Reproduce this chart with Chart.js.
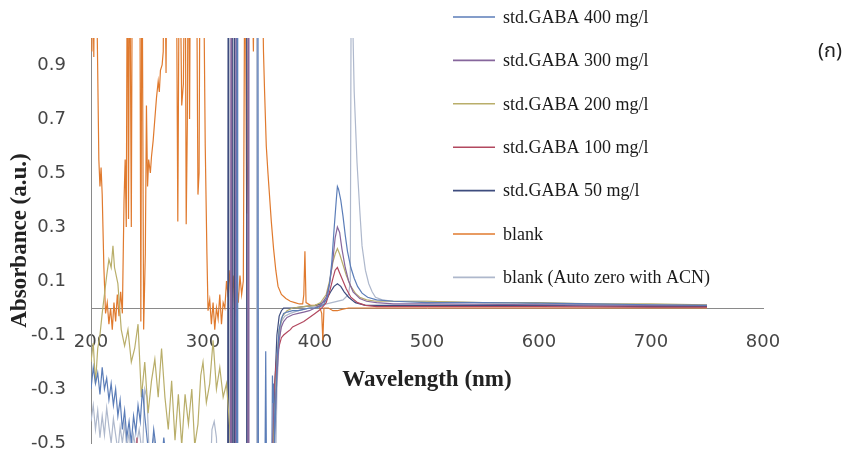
<!DOCTYPE html>
<html>
<head>
<meta charset="utf-8">
<script src="https://cdn.jsdelivr.net/npm/chart.js@4/dist/chart.umd.min.js"></script>
<style>
html,body{margin:0;padding:0;background:#fff;}
#c{display:block;}
</style>
</head>
<body>
<canvas id="c" width="849" height="457"></canvas>
<script>
// ---- tick labels ----
const xTicks = [200, 300, 400, 500, 600, 700, 800];
const yTicks = [-0.5, -0.3, -0.1, 0.1, 0.3, 0.5, 0.7, 0.9];

// ---- series labels ----
const seriesLabels = [
  'std.GABA 400 mg/l',
  'std.GABA 300 mg/l',
  'std.GABA 200 mg/l',
  'std.GABA 100 mg/l',
  'std.GABA 50 mg/l',
  'blank',
  'blank (Auto zero with ACN)'
];

// ---- series values: [wavelength nm, absorbance] ----
const gaba400 = [
  [200,-0.3],[202,-0.22],[204,-0.28],[206,-0.24],[208,-0.32],[210,-0.22],[212,-0.3],[214,-0.26],
  [216,-0.34],[218,-0.28],[220,-0.36],[222,-0.3],[224,-0.4],[226,-0.34],[228,-0.45],[230,-0.38],
  [232,-0.48],[234,-0.42],[236,-0.5],[238,-0.4],[240,-0.46],[242,-0.36],[244,-0.42],[246,-0.3],
  [248,-0.4],[250,-0.48],[253,-0.6],[256,-0.45],[259,-0.55],[262,-0.62],[265,-0.48],[268,-0.6],
  [271,-0.5],[274,-0.7],[277,-0.55],[280,-0.7],[283,-0.6],[286,-0.75],[290,-0.6],[295,-0.75],
  [300,-0.8],[320,-0.8],[330,-0.8],[330.5,1.5],[331,-0.8],[348.5,-0.8],[349,1.5],[349.5,-0.8],
  [355,-0.8],[356,-0.16],[357,-0.8],[361,-0.8],[362,-0.25],[362.5,-0.35],[363,-0.28],[364,-0.5],
  [366,-0.2],[368,-0.08],[370,-0.04],[372,-0.02],[375,-0.015],[380,-0.01],[385,-0.01],[390,-0.005],
  [395,0.0],[400,0.0],[405,0.005],[408,0.015],[411,0.04],[413,0.09],[415,0.17],[417,0.29],
  [419,0.4],[420,0.45],[421,0.44],[423,0.4],[425,0.34],[427,0.27],[429,0.21],[432,0.15],
  [435,0.11],[438,0.08],[442,0.055],[447,0.04],[455,0.03],[470,0.025],[500,0.02],[550,0.02],
  [600,0.018],[650,0.015],[700,0.012],[750,0.01]
];
const gaba300 = [
  [200,-0.7],[230,-0.8],[260,-0.7],[290,-0.8],[320,-0.7],[324.5,-0.8],[325,1.5],[325.5,-0.8],
  [329,-0.8],[329.5,1.5],[330,-0.8],[340,-0.8],[340.5,1.5],[341,-0.8],[360,-0.8],[364,-0.45],
  [366,-0.25],[368,-0.12],[370,-0.07],[372,-0.05],[375,-0.035],[380,-0.025],[385,-0.02],
  [390,-0.015],[395,-0.01],[400,0.0],[405,0.01],[410,0.04],[413,0.09],[416,0.18],[418,0.26],
  [420,0.3],[422,0.28],[424,0.22],[427,0.15],[430,0.1],[434,0.06],[440,0.035],[446,0.025],
  [455,0.02],[470,0.015],[500,0.015],[600,0.012],[700,0.01],[750,0.01]
];
const gaba200 = [
  [200,-0.2],[202,-0.13],[204,-0.28],[206,-0.15],[208,-0.1],[210,-0.02],[212,0.05],[214,0.12],
  [216,0.18],[218,0.15],[219.6,0.23],[221,0.15],[224,0.09],[227,-0.08],[230,-0.14],[233,-0.08],
  [236,-0.2],[239,-0.15],[242,-0.06],[245,-0.33],[248,-0.2],[251,-0.39],[254,-0.27],[257,-0.19],
  [260,-0.33],[263,-0.15],[266,-0.33],[269,-0.45],[272,-0.27],[275,-0.49],[278,-0.32],[281,-0.51],
  [284,-0.32],[287,-0.43],[290,-0.3],[292.6,-0.51],[295.5,-0.43],[298,-0.25],[300,-0.2],[303,-0.35],
  [306,-0.28],[309,-0.12],[312,-0.3],[315,-0.22],[318,-0.33],[321,-0.28],[324,-0.45],[326,-0.8],
  [360,-0.8],[363,-0.5],[366,-0.2],[368,-0.08],[371,-0.03],[375,-0.01],[380,0.0],[390,0.005],
  [400,0.01],[405,0.02],[410,0.05],[413,0.1],[416,0.17],[418,0.2],[420,0.22],[422,0.2],
  [425,0.16],[428,0.12],[432,0.08],[436,0.055],[440,0.04],[446,0.03],[455,0.025],[470,0.025],
  [500,0.025],[550,0.02],[600,0.02],[650,0.015],[700,0.015],[750,0.012]
];
const gaba100 = [
  [200,-0.8],[240,-0.8],[241,-0.48],[242,-0.8],[300,-0.8],[360,-0.8],[362,-0.55],[363,-0.35],
  [364,-0.28],[365,-0.22],[366,-0.18],[368,-0.14],[370,-0.11],[372,-0.1],[375,-0.09],[378,-0.08],
  [380,-0.07],[385,-0.06],[390,-0.05],[395,-0.035],[400,-0.02],[405,-0.005],[410,0.02],[413,0.06],
  [416,0.11],[418,0.14],[420,0.15],[422,0.13],[425,0.1],[428,0.07],[432,0.04],[438,0.02],
  [445,0.01],[455,0.005],[500,0.005],[600,0.005],[700,0.003],[750,0.003]
];
const gaba50 = [
  [200,-0.8],[320,-0.8],[322,-0.8],[322.5,1.5],[323,-0.8],[326,-0.8],[326.5,1.5],[327,-0.8],
  [327.8,-0.8],[328.2,1.5],[328.6,-0.8],[338.5,-0.8],[339,1.5],[339.5,-0.8],[358,-0.8],[362,-0.6],
  [364,-0.3],[366,-0.1],[368,-0.03],[370,-0.01],[372,0.0],[375,0.0],[380,0.0],[390,0.005],
  [400,0.01],[405,0.015],[410,0.03],[414,0.06],[417,0.08],[420,0.09],[423,0.08],[426,0.06],
  [430,0.04],[436,0.02],[445,0.01],[460,0.01],[500,0.01],[600,0.01],[700,0.005],[750,0.005]
];
const blank = [
  [200,1.5],[200.8,0.95],[201.6,1.3],[202.5,0.93],[203.5,1.5],[205,1.2],[207,0.55],[208,0.45],
  [209,0.52],[210,0.42],[211.5,0.15],[213,-0.02],[214.5,0.02],[216,-0.06],[217.5,0.0],[219,-0.08],
  [220.5,0.02],[222,-0.05],[223.5,0.05],[225,-0.03],[226.5,0.06],[228,-0.02],[229.5,0.4],[230.5,0.55],
  [231.5,0.3],[232.5,1.5],[233.5,0.33],[234.5,1.5],[236,0.3],[237,1.5],[243.5,1.5],[244.5,-0.05],
  [245.5,1.5],[247,-0.08],[248.5,0.2],[249.5,0.75],[250.5,0.45],[251.5,0.55],[253,0.5],[254,0.56],
  [255.5,0.62],[257,0.7],[258.5,0.78],[260,0.84],[261,0.8],[262,0.88],[263.5,0.9],[264.5,0.95],
  [265.5,1.5],[267,0.87],[268,1.5],[276,1.5],[277.5,0.32],[279,1.5],[281,0.75],[282.5,0.83],
  [284,1.5],[285,0.31],[286,0.68],[287,1.5],[288,0.7],[289,1.5],[294,1.5],[295.5,0.42],
  [296.5,0.5],[297.5,1.5],[300,1.5],[302,0.6],[303.5,0.2],[304.5,-0.01],[306,0.03],[307.5,-0.06],
  [309,0.02],[310.5,-0.08],[312,0.0],[313.5,-0.04],[315,0.05],[316.5,-0.06],[318,0.02],[319.5,0.0],
  [321,0.1],[322.5,0.04],[324,0.14],[325.5,0.02],[327,0.12],[328.5,-0.03],[330,0.1],[331.5,0.02],
  [333,0.12],[334.5,0.05],[336,0.1],[337.5,1.5],[339,0.35],[340,0.55],[341,1.5],[343,1.5],
  [345,0.95],[346,1.5],[352,1.5],[354,0.95],[355,0.8],[356.5,0.6],[358,0.5],[359,0.44],
  [361,0.32],[363,0.22],[365,0.14],[367,0.08],[370,0.05],[374,0.035],[378,0.025],[382,0.02],
  [386,0.015],[389,0.015],[390,0.05],[391,0.21],[392,0.02],[396,0.01],[400,0.01],[404,0.005],
  [406,-0.02],[407,-0.12],[408,0.0],[412,0.0],[416,-0.01],[420,-0.01],[424,-0.005],[430,0.0],
  [450,0.0],[500,0.0],[600,0.0],[700,0.0],[750,0.0]
];
const blankACN = [
  [200,-0.42],[202,-0.36],[204,-0.45],[206,-0.38],[208,-0.48],[210,-0.4],[212,-0.47],[214,-0.37],
  [216,-0.44],[218,-0.5],[220,-0.41],[222,-0.47],[224,-0.53],[226,-0.44],[228,-0.5],[230,-0.43],
  [232,-0.52],[234,-0.46],[236,-0.55],[238,-0.47],[240,-0.52],[243,-0.45],[246,-0.55],[248,-0.3],
  [250,-0.33],[252,-0.55],[256,-0.48],[260,-0.6],[266,-0.52],[272,-0.65],[280,-0.8],[305,-0.8],
  [308,-0.45],[310,-0.42],[312,-0.48],[314,-0.8],[347.5,-0.8],[348,1.5],[348.5,0.0],[349,-0.8],
  [364,-0.8],[366,-0.3],[368,-0.12],[370,-0.05],[373,-0.03],[378,-0.02],[385,-0.01],[395,0.0],
  [405,0.01],[415,0.02],[425,0.03],[430,0.05],[431.5,0.1],[432.5,1.5],[433.5,1.1],[435,0.8],
  [437.5,0.54],[440,0.36],[442,0.23],[445,0.14],[448,0.09],[451,0.06],[454,0.04],[460,0.03],
  [470,0.025],[500,0.025],[550,0.02],[580,0.02],[600,0.015],[650,0.012],[700,0.01],[750,0.01]
];

// ---- colours ----
const seriesColors = ['#5B7DB8', '#86669C', '#B9AE6A', '#B2485F', '#3E4C7E', '#E07A2E', '#AEB8CC'];
const seriesData = [gaba400, gaba300, gaba200, gaba100, gaba50, blank, blankACN];

const datasets = seriesData.map((d, i) => ({
  label: seriesLabels[i],
  data: d.map(p => ({x: p[0], y: p[1]})),
  borderColor: seriesColors[i],
  backgroundColor: seriesColors[i],
  borderWidth: 1.2,
  pointRadius: 0,
  fill: false,
  tension: 0
}));

const tickFont = {family: '"DejaVu Sans", Verdana, sans-serif', size: 18};
const titleFont = {family: '"Liberation Serif", "Times New Roman", serif', size: 23, weight: 'bold'};

const legendPlugin = {
  id: 'sideLegend',
  afterDraw(chart) {
    const ctx = chart.ctx;
    ctx.save();
    chart.data.datasets.forEach((ds, i) => {
      const y = 17 + i * 43.4;
      ctx.strokeStyle = ds.borderColor;
      ctx.lineWidth = 1.6;
      ctx.beginPath();
      ctx.moveTo(453, y);
      ctx.lineTo(495, y);
      ctx.stroke();
      ctx.fillStyle = '#1a1a1a';
      ctx.font = '18px "Liberation Serif", "Times New Roman", serif';
      ctx.textBaseline = 'middle';
      ctx.textAlign = 'left';
      ctx.fillText(ds.label, 503, y + 1);
    });
    ctx.font = '20px "Noto Sans Thai", "Noto Sans", "DejaVu Sans", sans-serif';
    ctx.fillStyle = '#222';
    ctx.textAlign = 'center';
    ctx.fillText('(ก)', 830, 53);
    ctx.restore();
  }
};

new Chart(document.getElementById('c'), {
  type: 'line',
  data: {datasets},
  plugins: [legendPlugin],
  options: {
    responsive: false,
    animation: false,
    devicePixelRatio: 1,
    layout: {padding: {top: 38, right: 86, bottom: 14, left: 0}},
    plugins: {legend: {display: false}, tooltip: {enabled: false}},
    scales: {
      x: {
        type: 'linear',
        min: 200,
        max: 800,
        position: {y: 0},
        afterBuildTicks: s => { s.ticks = xTicks.map(v => ({value: v})); },
        afterFit: s => { s.height = 86; },
        ticks: {font: tickFont, color: '#454545', padding: 24, maxRotation: 0, autoSkip: false},
        grid: {display: true, drawOnChartArea: false, drawTicks: false},
        border: {display: true, color: '#8a8a8a', width: 1},
        title: {display: true, text: 'Wavelength (nm)', font: titleFont, color: '#222', padding: {top: 0, bottom: 0}}
      },
      y: {
        type: 'linear',
        min: -0.5,
        max: 1.0,
        afterBuildTicks: s => { s.ticks = yTicks.map(v => ({value: v})); },
        afterFit: s => { s.width = 91; },
        ticks: {font: tickFont, color: '#454545', padding: 0, callback: v => v.toFixed(1)},
        grid: {display: true, drawOnChartArea: false, drawTicks: true, tickLength: 25, tickColor: 'rgba(0,0,0,0)'},
        border: {display: true, color: '#8a8a8a', width: 1},
        title: {display: true, text: 'Absorbance (a.u.)', font: titleFont, color: '#222', padding: {top: 6, bottom: 0}}
      }
    }
  }
});
</script>
</body>
</html>
